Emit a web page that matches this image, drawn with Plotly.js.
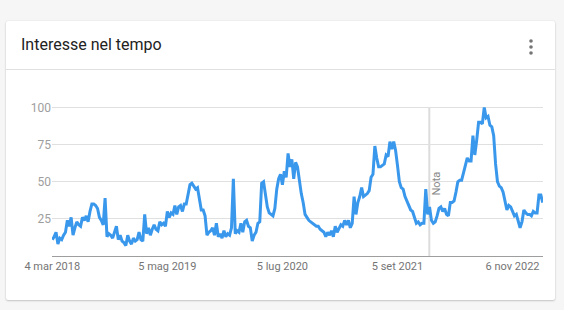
<!DOCTYPE html>
<html>
<head>
<meta charset="utf-8">
<script src="https://cdn.plot.ly/plotly-3.0.1.min.js"></script>
<style>
  html, body { margin: 0; padding: 0; width: 564px; height: 310px; background: #f6f6f6; overflow: hidden; font-family: Roboto, "Noto Sans", sans-serif; }
  #card { position: absolute; left: 6px; top: 21px; width: 549px; height: 279px; background: #fff;
          box-shadow: 0 0 2px rgba(0,0,0,0.10), 0 1px 2px rgba(0,0,0,0.18); border-radius: 2px; }
  #hdr { position: absolute; left: 15px; top: 14px; font-size: 16px; color: #222; line-height: 20px; }
  #div { position: absolute; left: 0; top: 48px; width: 549px; height: 1px; background: #e0e0e0; }
  #menu { position: absolute; left: 521px; top: 17px; }
  #chart { position: absolute; left: 0; top: 0; width: 564px; height: 310px; }
</style>
</head>
<body>
<div id="card">
  <div id="hdr">Interesse nel tempo</div>
  <svg id="menu" width="8" height="18"><circle cx="4" cy="3" r="1.8" fill="#757575"/><circle cx="4" cy="9" r="1.8" fill="#757575"/><circle cx="4" cy="15" r="1.8" fill="#757575"/></svg>
  <div id="div"></div>
</div>
<div id="chart"></div>
<script>
// Weekly search interest, starting week of 4 mar 2018
const startDate = '2018-03-04';
const interest = [
  11, 13, 16, 8, 12, 11, 14, 16, 24, 20,
  26, 14, 19, 23, 21, 20, 26, 24, 27, 23,
  30, 35, 35, 34, 32, 26, 24, 21, 39, 13,
  15, 14, 12, 16, 20, 11, 14, 10, 9, 7,
  14, 10, 8, 12, 10, 11, 16, 11, 10, 28,
  15, 19, 14, 18, 21, 18, 17, 23, 21, 22,
  20, 30, 26, 29, 28, 34, 28, 33, 34, 30,
  35, 35, 42, 48, 49, 47, 45, 46, 38, 31,
  31, 27, 14, 16, 17, 19, 14, 22, 13, 15,
  12, 17, 13, 15, 14, 19, 52, 15, 17, 16,
  22, 16, 23, 24, 20, 19, 10, 14, 16, 22,
  23, 49, 50, 41, 33, 29, 28, 27, 32, 45,
  52, 55, 48, 57, 53, 69, 60, 65, 52, 63,
  60, 50, 42, 36, 28, 26, 24, 23, 22, 21,
  20, 20, 18, 17, 16, 13, 16, 14, 17, 13,
  20, 16, 19, 21, 20, 24, 21, 24, 19, 22,
  40, 28, 36, 40, 46, 40, 41, 42, 44, 53,
  55, 74, 66, 60, 60, 61, 62, 68, 67, 77,
  72, 77, 71, 61, 50, 46, 45, 40, 37, 33,
  31, 30, 25, 22, 23, 21, 22, 22, 45, 28,
  33, 24, 22, 23, 27, 32, 33, 30, 32, 28,
  27, 36, 36, 37, 43, 50, 51, 51, 56, 62,
  66, 64, 64, 81, 68, 78, 90, 90, 89, 100,
  93, 94, 88, 87, 81, 62, 50, 47, 46, 43,
  36, 31, 34, 33, 30, 27, 28, 24, 19, 23,
  31, 29, 28, 28, 27, 30, 29, 29, 41, 41,
  36
];
const tickDates = ['2018-03-04', '2019-05-05', '2020-07-05', '2021-09-05', '2022-11-06'];
const tickLabels = ['4 mar 2018', '5 mag 2019', '5 lug 2020', '5 set 2021', '6 nov 2022'];
const yTicks = [25, 50, 75, 100];
const noteDate = '2022-01-01';
const noteLabel = 'Nota';

function weekDates(start, n) {
  const out = [];
  const t0 = new Date(start + 'T00:00:00Z').getTime();
  for (let i = 0; i < n; i++) {
    out.push(new Date(t0 + i * 7 * 86400000).toISOString().slice(0, 10));
  }
  return out;
}
const dates = weekDates(startDate, interest.length);

const trace = {
  x: dates, y: interest, type: 'scatter', mode: 'lines',
  line: { color: '#3a98ec', width: 3 }, hoverinfo: 'skip'
};

const layout = {
  width: 564, height: 310,
  margin: { l: 52, r: 21, t: 100, b: 54 },
  paper_bgcolor: 'rgba(0,0,0,0)', plot_bgcolor: 'rgba(0,0,0,0)',
  showlegend: false,
  font: { family: 'Roboto, "Noto Sans", sans-serif' },
  xaxis: {
    type: 'date', range: ['2018-03-03', '2023-02-27'],
    tickvals: tickDates, ticktext: tickLabels,
    showgrid: false, zeroline: false,
    showline: true, linecolor: '#9e9e9e', linewidth: 1,
    ticks: '', tickfont: { size: 11, color: '#757575' },
    fixedrange: true
  },
  yaxis: {
    range: [0, 105], tickvals: yTicks,
    showgrid: true, gridcolor: '#e0e0e0', gridwidth: 1,
    zeroline: false, showline: false, ticks: '',
    tickfont: { size: 12, color: '#9e9e9e' },
    fixedrange: true
  },
  shapes: [{
    type: 'line', xref: 'x', yref: 'y', x0: noteDate, x1: noteDate, y0: 0, y1: 100,
    line: { color: '#dcdcdc', width: 2 }, layer: 'below'
  }],
  annotations: [{
    xref: 'x', yref: 'y', x: noteDate, y: 49, xshift: 7,
    text: noteLabel, textangle: -90, showarrow: false,
    font: { size: 11, color: '#8a8a8a' }
  }]
};

Plotly.newPlot('chart', [trace], layout, { displayModeBar: false, staticPlot: true });
</script>
</body>
</html>
